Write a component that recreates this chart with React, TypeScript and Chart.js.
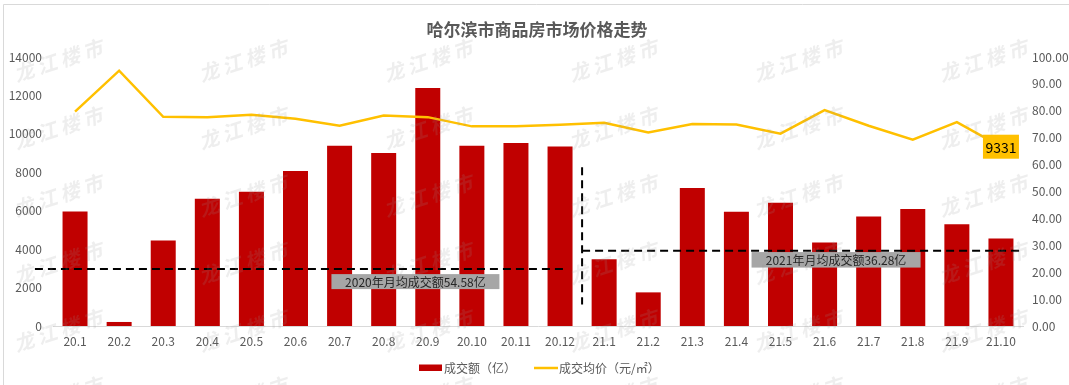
import React, { useEffect, useRef } from 'react';
import { Chart, registerables } from 'chart.js';

Chart.register(...registerables);

// ---------- data ----------
const categories = [
  '20.1', '20.2', '20.3', '20.4', '20.5', '20.6', '20.7', '20.8', '20.9', '20.10', '20.11', '20.12',
  '21.1', '21.2', '21.3', '21.4', '21.5', '21.6', '21.7', '21.8', '21.9', '21.10',
];
// 成交额（亿） - right axis
const turnoverYi = [
  42.6, 1.5, 31.8, 47.3, 49.9, 57.6, 67.0, 64.3, 88.5, 67.0, 68.0, 66.7,
  24.8, 12.5, 51.3, 42.5, 45.8, 31.0, 40.7, 43.5, 37.8, 32.5,
];
// 成交均价（元/㎡） - left axis
const avgPrice = [
  11160, 13290, 10890, 10870, 10990, 10790, 10420, 10960, 10870, 10390, 10390, 10470,
  10580, 10070, 10510, 10490, 10010, 11240, 10420, 9700, 10610, 9331,
];
const seriesNames = ['成交额（亿）', '成交均价（元/㎡）'];
const chartTitle = '哈尔滨市商品房市场价格走势';
const priceAxis = { min: 0, max: 14000, step: 2000 };
const amountAxis = { min: 0, max: 100, step: 10 };
const avgTexts = ['2020年月均成交额54.58亿', '2021年月均成交额36.28亿'];
const watermarkText = '龙江楼市';

// annotation geometry in data units (category index, right-axis value)
const dashedSegments = [
  { x0: -0.91, x1: 11.11, y0: 21.2, y1: 21.2 },
  { x0: 11.5, x1: 11.5, y0: 59, y1: 8 },
  { x0: 11.5, x1: 21.46, y0: 28, y1: 28 },
];
const avgBoxes = [
  { text: avgTexts[0], x: 7.72, y: 16.5, w: 168, h: 15 },
  { text: avgTexts[1], x: 17.26, y: 24.6, w: 169, h: 15.5 },
];

const FONT = '"Noto Sans CJK SC", "Noto Sans", sans-serif';
const GREY = '#595959';
const RED = '#C00000';
const GOLD = '#FFC000';

const decorPlugin = {
  id: 'decor',
  afterDatasetsDraw(chart: any) {
    const ctx = chart.ctx as CanvasRenderingContext2D;
    const x = chart.scales.x;
    const y1 = chart.scales.y1;
    ctx.save();
    // dashed average lines
    ctx.strokeStyle = '#000';
    ctx.lineWidth = 2;
    ctx.setLineDash([8, 5]);
    for (const s of dashedSegments) {
      ctx.beginPath();
      ctx.moveTo(x.getPixelForValue(s.x0), y1.getPixelForValue(s.y0));
      ctx.lineTo(x.getPixelForValue(s.x1), y1.getPixelForValue(s.y1));
      ctx.stroke();
    }
    ctx.setLineDash([]);
    // average labels
    ctx.font = `12px ${FONT}`;
    ctx.textAlign = 'center';
    ctx.textBaseline = 'middle';
    for (const b of avgBoxes) {
      const cx = x.getPixelForValue(b.x);
      const cy = y1.getPixelForValue(b.y);
      ctx.fillStyle = '#A6A6A6';
      ctx.fillRect(cx - b.w / 2, cy - b.h / 2, b.w, b.h);
      ctx.fillStyle = '#262626';
      ctx.fillText(b.text, cx, cy + 0.5);
    }
    // last value label
    const meta = chart.getDatasetMeta(1);
    const last = meta.data[meta.data.length - 1];
    if (last) {
      const w = 36, h = 24;
      ctx.fillStyle = GOLD;
      ctx.fillRect(last.x - w / 2, last.y - h / 2, w, h);
      ctx.fillStyle = '#000';
      ctx.font = `14px ${FONT}`;
      ctx.fillText(String(avgPrice[avgPrice.length - 1]), last.x, last.y + 0.5);
    }
    ctx.restore();
  },
  afterDraw(chart: any) {
    const ctx = chart.ctx as CanvasRenderingContext2D;
    ctx.save();
    // outer border (top + left)
    ctx.strokeStyle = '#D9D9D9';
    ctx.lineWidth = 1;
    ctx.beginPath();
    ctx.moveTo(3.5, chart.height);
    ctx.lineTo(3.5, 4.5);
    ctx.lineTo(chart.width, 4.5);
    ctx.stroke();
    // title
    ctx.fillStyle = GREY;
    ctx.font = `bold 17px ${FONT}`;
    ctx.textAlign = 'center';
    ctx.textBaseline = 'middle';
    ctx.fillText(chartTitle, 537, 30);
    // legend
    ctx.font = `12px ${FONT}`;
    ctx.textAlign = 'left';
    ctx.fillStyle = RED;
    ctx.fillRect(419, 364.5, 23, 6.5);
    ctx.fillStyle = GREY;
    ctx.fillText(seriesNames[0], 444, 368);
    ctx.strokeStyle = GOLD;
    ctx.lineWidth = 2.5;
    ctx.beginPath();
    ctx.moveTo(534, 368);
    ctx.lineTo(558, 368);
    ctx.stroke();
    ctx.fillStyle = GREY;
    ctx.fillText(seriesNames[1], 559, 368);
    // watermarks
    ctx.fillStyle = 'rgba(150,150,150,0.16)';
    ctx.font = `bold 20px ${FONT}`;
    ctx.textAlign = 'center';
    const chars = Array.from(watermarkText);
    for (let i = 0; i < 6; i++) {
      for (let j = 0; j < 6; j++) {
        const cx = 60 + 185 * i;
        const cy = 60 + 67.5 * j;
        ctx.save();
        ctx.translate(cx, cy);
        ctx.rotate((-18 * Math.PI) / 180);
        ctx.transform(1, 0, -0.25, 1, 0, 0);
        chars.forEach((c, k) => {
          ctx.fillText(c, (k - 1.5) * 24, 0);
        });
        ctx.restore();
      }
    }
    ctx.restore();
  },
};

export default function App() {
  const ref = useRef<HTMLCanvasElement | null>(null);
  useEffect(() => {
    if (!ref.current) return;
    const chart = new Chart(ref.current, {
      type: 'bar',
      data: {
        labels: categories,
        datasets: [
          {
            type: 'bar',
            label: seriesNames[0],
            data: turnoverYi,
            backgroundColor: RED,
            yAxisID: 'y1',
            barPercentage: 0.567,
            categoryPercentage: 1,
            order: 2,
          },
          {
            type: 'line',
            label: seriesNames[1],
            data: avgPrice,
            borderColor: GOLD,
            backgroundColor: GOLD,
            borderWidth: 2.5,
            pointRadius: 0,
            tension: 0,
            yAxisID: 'y',
            order: 1,
          },
        ],
      } as any,
      options: {
        responsive: false,
        animation: false,
        events: [],
        layout: { padding: { top: 57, left: 0, right: 0, bottom: 0 } },
        plugins: {
          legend: { display: false },
          title: { display: false },
          tooltip: { enabled: false },
        },
        scales: {
          x: {
            offset: true,
            grid: { display: false, drawTicks: false },
            border: { display: true, color: '#D9D9D9', width: 1 },
            ticks: { color: GREY, font: { family: FONT, size: 12 }, padding: 8, maxRotation: 0, autoSkip: false },
            afterFit: (s: any) => { s.height = 59; },
          },
          y: {
            position: 'left',
            min: priceAxis.min,
            max: priceAxis.max,
            grid: { display: false, drawTicks: false },
            border: { display: false },
            ticks: {
              stepSize: priceAxis.step,
              color: GREY,
              font: { family: FONT, size: 12 },
              padding: 11,
              callback: (v: any) => String(v),
            },
            afterFit: (s: any) => { s.width = 53; },
          },
          y1: {
            position: 'right',
            min: amountAxis.min,
            max: amountAxis.max,
            grid: { display: false, drawTicks: false },
            border: { display: false },
            ticks: {
              stepSize: amountAxis.step,
              color: GREY,
              font: { family: FONT, size: 12 },
              padding: 9,
              callback: (v: any) => Number(v).toFixed(2),
            },
            afterFit: (s: any) => { s.width = 46; },
          },
        },
      } as any,
      plugins: [decorPlugin],
    });
    return () => chart.destroy();
  }, []);

  return (
    <div style={{ position: 'fixed', left: 0, top: 0, width: 1069, height: 385, background: '#fff' }}>
      <canvas ref={ref} width={1069} height={385} style={{ display: 'block', width: 1069, height: 385 }} />
    </div>
  );
}
